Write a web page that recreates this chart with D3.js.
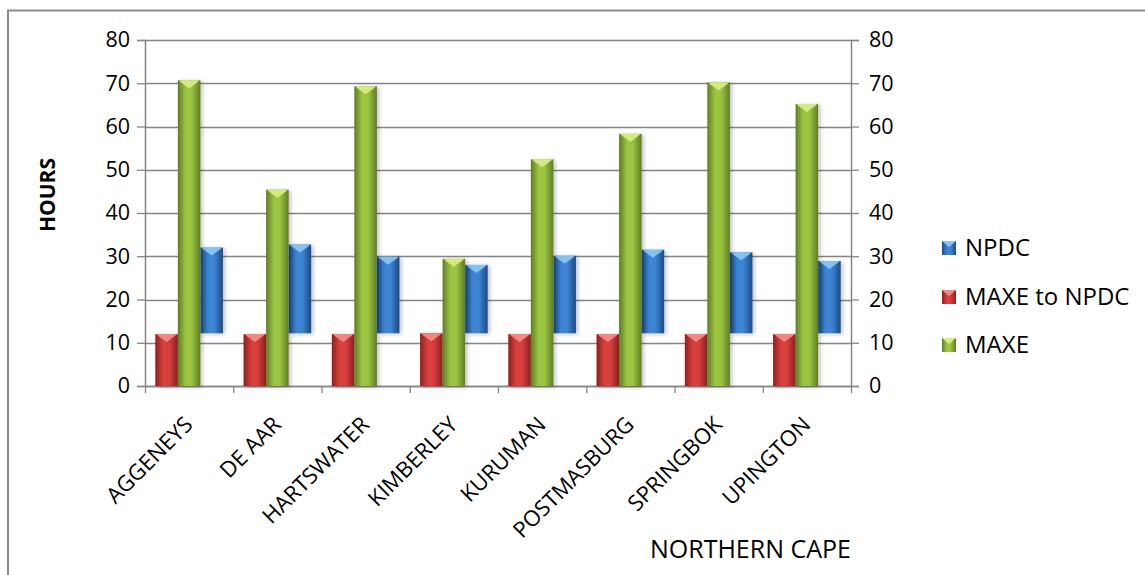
<!DOCTYPE html>
<html>
<head>
<meta charset="utf-8">
<script src="https://cdn.jsdelivr.net/npm/d3@7"></script>
<style>
  body { margin: 0; background: #fff; }
  text { font-family: "Open Sans", "Noto Sans", sans-serif; fill: #000; }
</style>
</head>
<body>
<div id="chart-area"></div>
<script>
const towns = ["AGGENEYS", "DE AAR", "HARTSWATER", "KIMBERLEY", "KURUMAN", "POSTMASBURG", "SPRINGBOK", "UPINGTON"];
const maxeToNpdc = [12, 12, 12, 12.2, 12, 12, 12, 12];
const maxe = [70.7, 45.4, 69.3, 29.4, 52.4, 58.3, 70.2, 65.2];
const npdc = [32, 32.7, 29.9, 28, 30.1, 31.5, 30.9, 28.9];
const npdcBase = [12.2, 12.2, 12.2, 12.2, 12.2, 12.2, 12.2, 12.2];
const yTicks = [0, 10, 20, 30, 40, 50, 60, 70, 80];
const legendNames = ["NPDC", "MAXE to NPDC", "MAXE"];

const svgWidth = 1145, svgHeight = 575;
const margin = { left: 145, right: 294, top: 40, bottom: 189 };
const width = svgWidth - margin.left - margin.right;
const height = svgHeight - margin.top - margin.bottom;

const svg = d3.select("#chart-area")
              .append("svg")
              .attr("width", svgWidth)
              .attr("height", svgHeight);

// colours for the 3d-ish columns: edge, centre, top facet
const palette = {
  red:   { edge: "#8e1f1f", mid: "#d8403e", top: "#f28a86" },
  green: { edge: "#5f7d25", mid: "#9cc643", top: "#d6ee7c" },
  blue:  { edge: "#1d4a86", mid: "#3d85d3", top: "#86c6f6" }
};

const defs = svg.append("defs");
Object.entries(palette).forEach(([k, c]) => {
  const lg = defs.append("linearGradient").attr("id", "grad-" + k)
                 .attr("x1", "0%").attr("x2", "100%").attr("y1", "0%").attr("y2", "0%");
  lg.append("stop").attr("offset", "0%").attr("stop-color", c.edge);
  lg.append("stop").attr("offset", "35%").attr("stop-color", c.mid);
  lg.append("stop").attr("offset", "60%").attr("stop-color", c.mid);
  lg.append("stop").attr("offset", "100%").attr("stop-color", c.edge);
});
const sh = defs.append("filter").attr("id", "shadow").attr("x", "-30%").attr("y", "-10%").attr("width", "160%").attr("height", "130%");
sh.append("feDropShadow").attr("dx", 2).attr("dy", 1).attr("stdDeviation", 2).attr("flood-color", "#000").attr("flood-opacity", 0.25);

// outer frame
svg.append("rect")
   .attr("x", 8).attr("y", 10.5)
   .attr("width", 1200).attr("height", 700)
   .attr("fill", "none").attr("stroke", "#8c8c8c").attr("stroke-width", 2);

const g = svg.append("g")
             .attr("transform", `translate(${margin.left},${margin.top})`);

const x = d3.scaleBand()
            .domain(towns)
            .range([0, width])
            .paddingInner(0)
            .paddingOuter(0);

const inner = d3.scaleBand()
                .domain(["red", "green", "blue"])
                .range([x.bandwidth() * 0.117, x.bandwidth() * 0.883])
                .padding(0);

const y = d3.scaleLinear()
            .domain([0, 80])
            .range([height, 0]);

// gridlines
g.append("g")
 .selectAll("line")
 .data(yTicks)
 .enter()
 .append("line")
   .attr("x1", 0).attr("x2", width)
   .attr("y1", d => Math.round(y(d)) + 0.5)
   .attr("y2", d => Math.round(y(d)) + 0.5)
   .attr("stroke", "#858585").attr("stroke-width", 1.3);

// axes
const yAxisLeft = d3.axisLeft(y).tickValues(yTicks).tickSize(8).tickPadding(7);
const yAxisRight = d3.axisRight(y).tickValues(yTicks).tickSize(8).tickPadding(10);
const styleAxis = sel => {
  sel.select(".domain").attr("stroke", "#858585").attr("stroke-width", 1.5);
  sel.selectAll(".tick line").attr("stroke", "#858585").attr("stroke-width", 1.3);
  sel.selectAll(".tick text").style("font-size", "21.5px").attr("fill", "#000")
     .style("font-family", "'Open Sans', sans-serif");
};
g.append("g").attr("class", "y axis").call(yAxisLeft).call(styleAxis);
g.append("g").attr("class", "y axis").attr("transform", `translate(${width},0)`)
 .call(yAxisRight).call(styleAxis);

// bottom axis with ticks at category boundaries
g.append("line")
 .attr("x1", 0).attr("x2", width)
 .attr("y1", height + 0.5).attr("y2", height + 0.5)
 .attr("stroke", "#858585").attr("stroke-width", 1.5);
g.append("g")
 .selectAll("line")
 .data(towns.concat(["end"]))
 .enter()
 .append("line")
   .attr("x1", (d, i) => i * x.step() + 0.5)
   .attr("x2", (d, i) => i * x.step() + 0.5)
   .attr("y1", height).attr("y2", height + 7)
   .attr("stroke", "#858585").attr("stroke-width", 1.3);

g.append("g")
 .selectAll("text")
 .data(towns)
 .enter()
 .append("text")
   .attr("text-anchor", "end")
   .attr("transform", d => `translate(${x(d) + x.bandwidth() / 2 + 5},${height + 40}) rotate(-45)`)
   .style("font-size", "22px")
   .text(d => d);

// a column drawn with gradient body and a chevron top facet
function column(sel, key, lo, hi) {
  const c = palette[key];
  const bw = inner.bandwidth();
  sel.each(function(d, i) {
    const gg = d3.select(this);
    const x0 = x(towns[i]) + inner(key);
    const y0 = y(hi[i]), y1 = y(lo[i]);
    gg.append("rect")
      .attr("x", x0).attr("y", y0)
      .attr("width", bw).attr("height", y1 - y0)
      .attr("fill", `url(#grad-${key})`)
      .attr("filter", "url(#shadow)");
    gg.append("path")
      .attr("d", `M${x0 + 1},${y0} L${x0 + bw - 1},${y0} L${x0 + bw - 3},${y0 + 2} L${x0 + bw / 2},${y0 + 8} L${x0 + 3},${y0 + 2} Z`)
      .attr("fill", c.top).attr("opacity", 0.95);
  });
}

const zeros = towns.map(() => 0);
g.append("g").selectAll("g").data(towns).enter().append("g")
 .call(column, "blue", npdcBase, npdc);
g.append("g").selectAll("g").data(towns).enter().append("g")
 .call(column, "red", zeros, maxeToNpdc);
g.append("g").selectAll("g").data(towns).enter().append("g")
 .call(column, "green", zeros, maxe);

// axis titles
svg.append("text")
   .attr("x", 851)
   .attr("y", 558)
   .attr("text-anchor", "end")
   .style("font-size", "25px")
   .text("NORTHERN CAPE");

svg.append("text")
   .attr("transform", "translate(55,195) rotate(-90)")
   .attr("text-anchor", "middle")
   .style("font-size", "21px")
   .style("font-weight", "bold")
   .text("HOURS");

// legend
const legendKeys = ["blue", "red", "green"];
const legendY = [248, 297, 345];
const leg = svg.append("g");
legendNames.forEach((name, i) => {
  const c = palette[legendKeys[i]];
  const ly = legendY[i];
  leg.append("rect")
     .attr("x", 942).attr("y", ly - 7)
     .attr("width", 14).attr("height", 14)
     .attr("fill", `url(#grad-${legendKeys[i]})`);
  leg.append("path")
     .attr("d", `M942,${ly - 7} L956,${ly - 7} L949,${ly - 1} Z`)
     .attr("fill", c.top);
  leg.append("text")
     .attr("x", 965).attr("y", ly)
     .attr("dy", "0.35em")
     .style("font-size", "24px")
     .text(name);
});
</script>
</body>
</html>
